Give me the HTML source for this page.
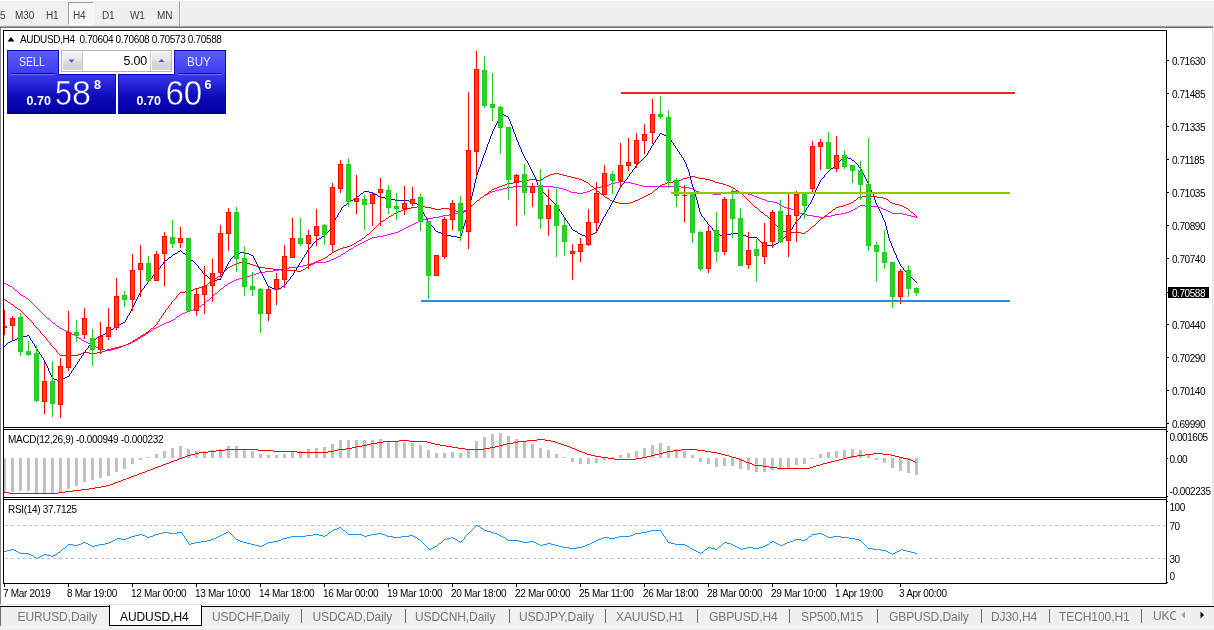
<!DOCTYPE html><html><head><meta charset="utf-8"><title>AUDUSD,H4</title><style>

html,body{margin:0;padding:0;background:#fff;}
body{width:1214px;height:630px;position:relative;overflow:hidden;font-family:"Liberation Sans",sans-serif;}
div,span{position:absolute;white-space:nowrap;}
.tb{left:0;top:0;width:1214px;height:26px;background:#f0f0f0;}
.tbt{top:9px;font-size:10px;line-height:13px;color:#404040;letter-spacing:-0.1px;will-change:transform;}
.pl{left:1172px;font-size:10px;line-height:11px;height:11px;letter-spacing:-0.45px;color:#000;}
.pl2{left:1169.5px;font-size:10px;line-height:11px;height:11px;letter-spacing:-0.45px;color:#000;}
.tk{left:1167px;width:2px;height:1px;background:#000;}
.dl{top:588px;font-size:10px;line-height:11px;letter-spacing:-0.31px;color:#000;}
.tab{top:610px;font-size:12px;line-height:15px;color:#767676;letter-spacing:-0.08px;}
.sep{top:609px;width:1px;height:14px;background:#6e6e6e;}
.ttl{left:20px;top:34px;font-size:10px;line-height:12px;letter-spacing:-0.35px;color:#000;}

</style></head><body>
<div class="tb"></div>
<div style="left:0;top:0;width:1214px;height:1px;background:#fdfdfd"></div>
<div style="left:0;top:25px;width:1214px;height:1px;background:#e2e2e2"></div>
<div style="left:0;top:26px;width:1214px;height:1px;background:#a8a8a8"></div>
<div style="left:0;top:27px;width:1213px;height:1px;background:#6a6a6a"></div>
<div style="left:68px;top:2px;width:26px;height:23px;background:repeating-conic-gradient(#ffffff 0 25%,#f0f0f0 0 50%) 0 0/2px 2px;border-left:1px solid #a0a0a0;border-top:1px solid #a0a0a0;border-right:1px solid #fff;border-bottom:1px solid #fff;box-sizing:border-box"></div>
<span class="tbt" style="left:-0.5px">5</span>
<span class="tbt" style="left:15px">M30</span>
<span class="tbt" style="left:46px">H1</span>
<span class="tbt" style="left:73px">H4</span>
<span class="tbt" style="left:102px">D1</span>
<span class="tbt" style="left:130px">W1</span>
<span class="tbt" style="left:156.5px">MN</span>
<div style="left:179px;top:1px;width:1px;height:25px;background:#a0a0a0"></div>
<div style="left:180px;top:1px;width:1px;height:25px;background:#fafafa"></div>
<div style="left:0;top:28px;width:1px;height:576px;background:#828282"></div>
<div style="left:1212px;top:28px;width:1px;height:576px;background:#e3e3e3"></div>
<div style="left:1213px;top:26px;width:1px;height:578px;background:#f0f0f0"></div>
<div style="left:0;top:604px;width:1213px;height:1px;background:#e3e3e3"></div>
<svg width="1214" height="630" viewBox="0 0 1214 630" style="position:absolute;left:0;top:0" shape-rendering="crispEdges">
<path d="M5 525.5H1166" stroke="#c0c0c0" stroke-width="1" stroke-dasharray="3 3" fill="none"/>
<path d="M5 558.5H1166" stroke="#c0c0c0" stroke-width="1" stroke-dasharray="3 3" fill="none"/>
<rect x="3" y="458" width="3" height="35" fill="#c0c0c0"/>
<rect x="11" y="458" width="3" height="34" fill="#c0c0c0"/>
<rect x="19" y="458" width="3" height="33" fill="#c0c0c0"/>
<rect x="27" y="458" width="3" height="33" fill="#c0c0c0"/>
<rect x="35" y="458" width="3" height="35" fill="#c0c0c0"/>
<rect x="43" y="458" width="3" height="35" fill="#c0c0c0"/>
<rect x="51" y="458" width="3" height="35" fill="#c0c0c0"/>
<rect x="59" y="458" width="3" height="35" fill="#c0c0c0"/>
<rect x="67" y="458" width="3" height="31" fill="#c0c0c0"/>
<rect x="75" y="458" width="3" height="28" fill="#c0c0c0"/>
<rect x="83" y="458" width="3" height="24" fill="#c0c0c0"/>
<rect x="91" y="458" width="3" height="22" fill="#c0c0c0"/>
<rect x="99" y="458" width="3" height="20" fill="#c0c0c0"/>
<rect x="107" y="458" width="3" height="18" fill="#c0c0c0"/>
<rect x="115" y="458" width="3" height="14" fill="#c0c0c0"/>
<rect x="123" y="458" width="3" height="11" fill="#c0c0c0"/>
<rect x="131" y="458" width="3" height="6" fill="#c0c0c0"/>
<rect x="139" y="458" width="3" height="2" fill="#c0c0c0"/>
<rect x="147" y="457" width="3" height="1" fill="#c0c0c0"/>
<rect x="155" y="454" width="3" height="4" fill="#c0c0c0"/>
<rect x="163" y="451" width="3" height="7" fill="#c0c0c0"/>
<rect x="171" y="448" width="3" height="10" fill="#c0c0c0"/>
<rect x="179" y="446" width="3" height="12" fill="#c0c0c0"/>
<rect x="187" y="449" width="3" height="9" fill="#c0c0c0"/>
<rect x="195" y="451" width="3" height="7" fill="#c0c0c0"/>
<rect x="203" y="451" width="3" height="7" fill="#c0c0c0"/>
<rect x="211" y="450" width="3" height="8" fill="#c0c0c0"/>
<rect x="219" y="449" width="3" height="9" fill="#c0c0c0"/>
<rect x="227" y="446" width="3" height="12" fill="#c0c0c0"/>
<rect x="235" y="446" width="3" height="12" fill="#c0c0c0"/>
<rect x="243" y="450" width="3" height="8" fill="#c0c0c0"/>
<rect x="251" y="451" width="3" height="7" fill="#c0c0c0"/>
<rect x="259" y="454" width="3" height="4" fill="#c0c0c0"/>
<rect x="267" y="455" width="3" height="3" fill="#c0c0c0"/>
<rect x="275" y="455" width="3" height="3" fill="#c0c0c0"/>
<rect x="283" y="454" width="3" height="4" fill="#c0c0c0"/>
<rect x="291" y="452" width="3" height="6" fill="#c0c0c0"/>
<rect x="299" y="451" width="3" height="7" fill="#c0c0c0"/>
<rect x="307" y="449" width="3" height="9" fill="#c0c0c0"/>
<rect x="315" y="448" width="3" height="10" fill="#c0c0c0"/>
<rect x="323" y="447" width="3" height="11" fill="#c0c0c0"/>
<rect x="331" y="444" width="3" height="14" fill="#c0c0c0"/>
<rect x="339" y="440" width="3" height="18" fill="#c0c0c0"/>
<rect x="347" y="440" width="3" height="18" fill="#c0c0c0"/>
<rect x="355" y="440" width="3" height="18" fill="#c0c0c0"/>
<rect x="363" y="440" width="3" height="18" fill="#c0c0c0"/>
<rect x="371" y="440" width="3" height="18" fill="#c0c0c0"/>
<rect x="379" y="439" width="3" height="19" fill="#c0c0c0"/>
<rect x="387" y="441" width="3" height="17" fill="#c0c0c0"/>
<rect x="395" y="441" width="3" height="17" fill="#c0c0c0"/>
<rect x="403" y="442" width="3" height="16" fill="#c0c0c0"/>
<rect x="411" y="443" width="3" height="15" fill="#c0c0c0"/>
<rect x="419" y="445" width="3" height="13" fill="#c0c0c0"/>
<rect x="427" y="450" width="3" height="8" fill="#c0c0c0"/>
<rect x="435" y="453" width="3" height="5" fill="#c0c0c0"/>
<rect x="443" y="453" width="3" height="5" fill="#c0c0c0"/>
<rect x="451" y="452" width="3" height="6" fill="#c0c0c0"/>
<rect x="459" y="453" width="3" height="5" fill="#c0c0c0"/>
<rect x="467" y="449" width="3" height="9" fill="#c0c0c0"/>
<rect x="475" y="441" width="3" height="17" fill="#c0c0c0"/>
<rect x="483" y="437" width="3" height="21" fill="#c0c0c0"/>
<rect x="491" y="434" width="3" height="24" fill="#c0c0c0"/>
<rect x="499" y="433" width="3" height="25" fill="#c0c0c0"/>
<rect x="507" y="436" width="3" height="22" fill="#c0c0c0"/>
<rect x="515" y="439" width="3" height="19" fill="#c0c0c0"/>
<rect x="523" y="442" width="3" height="16" fill="#c0c0c0"/>
<rect x="531" y="444" width="3" height="14" fill="#c0c0c0"/>
<rect x="539" y="448" width="3" height="10" fill="#c0c0c0"/>
<rect x="547" y="450" width="3" height="8" fill="#c0c0c0"/>
<rect x="555" y="454" width="3" height="4" fill="#c0c0c0"/>
<rect x="563" y="457" width="3" height="1" fill="#c0c0c0"/>
<rect x="571" y="458" width="3" height="4" fill="#c0c0c0"/>
<rect x="579" y="458" width="3" height="6" fill="#c0c0c0"/>
<rect x="587" y="458" width="3" height="6" fill="#c0c0c0"/>
<rect x="595" y="458" width="3" height="5" fill="#c0c0c0"/>
<rect x="603" y="458" width="3" height="2" fill="#c0c0c0"/>
<rect x="611" y="457" width="3" height="1" fill="#c0c0c0"/>
<rect x="619" y="455" width="3" height="3" fill="#c0c0c0"/>
<rect x="627" y="453" width="3" height="5" fill="#c0c0c0"/>
<rect x="635" y="451" width="3" height="7" fill="#c0c0c0"/>
<rect x="643" y="448" width="3" height="10" fill="#c0c0c0"/>
<rect x="651" y="445" width="3" height="13" fill="#c0c0c0"/>
<rect x="659" y="443" width="3" height="15" fill="#c0c0c0"/>
<rect x="667" y="446" width="3" height="12" fill="#c0c0c0"/>
<rect x="675" y="449" width="3" height="9" fill="#c0c0c0"/>
<rect x="683" y="451" width="3" height="7" fill="#c0c0c0"/>
<rect x="691" y="455" width="3" height="3" fill="#c0c0c0"/>
<rect x="699" y="458" width="3" height="4" fill="#c0c0c0"/>
<rect x="707" y="458" width="3" height="6" fill="#c0c0c0"/>
<rect x="715" y="458" width="3" height="9" fill="#c0c0c0"/>
<rect x="723" y="458" width="3" height="8" fill="#c0c0c0"/>
<rect x="731" y="458" width="3" height="8" fill="#c0c0c0"/>
<rect x="739" y="458" width="3" height="11" fill="#c0c0c0"/>
<rect x="747" y="458" width="3" height="12" fill="#c0c0c0"/>
<rect x="755" y="458" width="3" height="14" fill="#c0c0c0"/>
<rect x="763" y="458" width="3" height="14" fill="#c0c0c0"/>
<rect x="771" y="458" width="3" height="12" fill="#c0c0c0"/>
<rect x="779" y="458" width="3" height="12" fill="#c0c0c0"/>
<rect x="787" y="458" width="3" height="10" fill="#c0c0c0"/>
<rect x="795" y="458" width="3" height="7" fill="#c0c0c0"/>
<rect x="803" y="458" width="3" height="6" fill="#c0c0c0"/>
<rect x="811" y="458" width="3" height="1" fill="#c0c0c0"/>
<rect x="819" y="454" width="3" height="4" fill="#c0c0c0"/>
<rect x="827" y="452" width="3" height="6" fill="#c0c0c0"/>
<rect x="835" y="451" width="3" height="7" fill="#c0c0c0"/>
<rect x="843" y="450" width="3" height="8" fill="#c0c0c0"/>
<rect x="851" y="449" width="3" height="9" fill="#c0c0c0"/>
<rect x="859" y="450" width="3" height="8" fill="#c0c0c0"/>
<rect x="867" y="455" width="3" height="3" fill="#c0c0c0"/>
<rect x="875" y="458" width="3" height="2" fill="#c0c0c0"/>
<rect x="883" y="458" width="3" height="5" fill="#c0c0c0"/>
<rect x="891" y="458" width="3" height="10" fill="#c0c0c0"/>
<rect x="899" y="458" width="3" height="13" fill="#c0c0c0"/>
<rect x="907" y="458" width="3" height="15" fill="#c0c0c0"/>
<rect x="915" y="458" width="3" height="17" fill="#c0c0c0"/>
<path d="M619 181.5h6M615 182.5h4M625 182.5h6M611 183.5h4M631 183.5h4M609 184.5h2M635 184.5h4M606 185.5h3M639 185.5h4M513 186.5h40M601 186.5h5M643 186.5h38M507 187.5h6M553 187.5h6M596 187.5h5M681 187.5h8M503 188.5h4M559 188.5h4M594 188.5h2M689 188.5h4M499 189.5h4M563 189.5h3M592 189.5h2M693 189.5h2M495 190.5h4M566 190.5h3M590 190.5h2M695 190.5h1M492 191.5h3M569 191.5h2M587 191.5h3M696 191.5h3M731 191.5h6M490 192.5h2M571 192.5h6M583 192.5h4M699 192.5h6M727 192.5h4M737 192.5h6M488 193.5h2M577 193.5h6M705 193.5h8M721 193.5h6M743 193.5h5M486 194.5h2M713 194.5h8M748 194.5h4M484 195.5h2M752 195.5h2M483 196.5h1M754 196.5h3M481 197.5h2M757 197.5h2M480 198.5h1M759 198.5h3M479 199.5h1M762 199.5h3M477 200.5h2M765 200.5h2M476 201.5h1M767 201.5h6M475 202.5h1M773 202.5h4M474 203.5h1M777 203.5h2M473 204.5h1M779 204.5h2M471 205.5h2M781 205.5h1M860 205.5h5M470 206.5h1M782 206.5h2M858 206.5h2M865 206.5h13M469 207.5h1M784 207.5h3M857 207.5h1M878 207.5h3M468 208.5h1M787 208.5h4M855 208.5h2M881 208.5h2M466 209.5h2M791 209.5h3M853 209.5h2M883 209.5h3M464 210.5h2M794 210.5h2M851 210.5h2M886 210.5h2M462 211.5h2M796 211.5h2M849 211.5h2M888 211.5h2M459 212.5h3M798 212.5h2M846 212.5h3M890 212.5h2M455 213.5h4M800 213.5h3M841 213.5h5M892 213.5h11M449 214.5h6M803 214.5h4M835 214.5h6M903 214.5h4M443 215.5h6M807 215.5h6M831 215.5h4M907 215.5h4M439 216.5h4M813 216.5h6M825 216.5h6M911 216.5h4M433 217.5h6M819 217.5h6M915 217.5h2M427 218.5h6M423 219.5h4M420 220.5h3M418 221.5h2M416 222.5h2M414 223.5h2M412 224.5h2M410 225.5h2M408 226.5h2M406 227.5h2M404 228.5h2M402 229.5h2M400 230.5h2M398 231.5h2M395 232.5h3M391 233.5h4M387 234.5h4M383 235.5h4M377 236.5h6M372 237.5h5M370 238.5h2M368 239.5h2M366 240.5h2M364 241.5h2M362 242.5h2M360 243.5h2M358 244.5h2M356 245.5h2M354 246.5h2M353 247.5h1M351 248.5h2M349 249.5h2M348 250.5h1M346 251.5h2M345 252.5h1M343 253.5h2M341 254.5h2M340 255.5h1M338 256.5h2M336 257.5h2M334 258.5h2M331 259.5h3M329 260.5h2M326 261.5h3M315 262.5h11M311 263.5h4M307 264.5h4M303 265.5h4M297 266.5h6M289 267.5h8M283 268.5h6M279 269.5h4M273 270.5h6M265 271.5h8M259 272.5h6M256 273.5h3M253 274.5h3M250 275.5h3M247 276.5h3M243 277.5h4M239 278.5h4M236 279.5h3M234 280.5h2M232 281.5h2M230 282.5h2M4 283.5h2M228 283.5h2M6 284.5h2M227 284.5h1M8 285.5h2M225 285.5h2M10 286.5h2M224 286.5h1M12 287.5h1M223 287.5h1M13 288.5h1M221 288.5h2M14 289.5h1M220 289.5h1M15 290.5h2M219 290.5h1M17 291.5h1M218 291.5h1M18 292.5h1M217 292.5h1M19 293.5h1M215 293.5h2M20 294.5h1M214 294.5h1M21 295.5h2M213 295.5h1M23 296.5h2M212 296.5h1M25 297.5h1M211 297.5h1M26 298.5h2M210 298.5h1M28 299.5h1M209 299.5h1M29 300.5h1M207 300.5h2M30 301.5h1M206 301.5h1M31 302.5h1M205 302.5h1M32 303.5h1M204 303.5h1M33 304.5h1M202 304.5h2M34 305.5h1M201 305.5h1M35 306.5h1M199 306.5h2M36 307.5h1M197 307.5h2M37 308.5h1M195 308.5h2M38 309.5h1M193 309.5h2M39 310.5h1M190 310.5h3M40 311.5h1M187 311.5h3M41 312.5h1M185 312.5h2M42 313.5h1M182 313.5h3M43 314.5h1M180 314.5h2M44 315.5h1M179 315.5h1M45 316.5h1M177 316.5h2M46 317.5h1M176 317.5h1M47 318.5h2M175 318.5h1M49 319.5h1M173 319.5h2M50 320.5h1M171 320.5h2M51 321.5h1M169 321.5h2M52 322.5h1M166 322.5h3M53 323.5h2M164 323.5h2M55 324.5h1M162 324.5h2M56 325.5h1M160 325.5h2M57 326.5h2M158 326.5h2M59 327.5h1M156 327.5h2M60 328.5h2M154 328.5h2M62 329.5h2M153 329.5h1M64 330.5h2M151 330.5h2M66 331.5h2M149 331.5h2M68 332.5h2M148 332.5h1M70 333.5h2M146 333.5h2M72 334.5h2M145 334.5h1M74 335.5h2M143 335.5h2M76 336.5h1M141 336.5h2M77 337.5h2M140 337.5h1M79 338.5h2M138 338.5h2M81 339.5h1M137 339.5h1M82 340.5h2M135 340.5h2M84 341.5h2M133 341.5h2M86 342.5h2M131 342.5h2M88 343.5h2M129 343.5h2M90 344.5h2M126 344.5h3M92 345.5h2M123 345.5h3M94 346.5h2M121 346.5h2M96 347.5h2M118 347.5h3M98 348.5h2M115 348.5h3M100 349.5h5M111 349.5h4M105 350.5h6" fill="none" stroke="#ff00ff" stroke-width="1"/>
<path d="M554 173.5h5M550 174.5h4M559 174.5h4M548 175.5h2M563 175.5h4M546 176.5h2M567 176.5h4M691 176.5h4M544 177.5h2M571 177.5h4M687 177.5h4M695 177.5h4M543 178.5h1M575 178.5h4M683 178.5h4M699 178.5h6M529 179.5h8M541 179.5h2M579 179.5h3M681 179.5h2M705 179.5h5M523 180.5h6M537 180.5h4M582 180.5h2M678 180.5h3M710 180.5h3M519 181.5h4M584 181.5h2M673 181.5h5M713 181.5h2M513 182.5h6M586 182.5h2M667 182.5h6M715 182.5h4M507 183.5h6M588 183.5h1M665 183.5h2M719 183.5h4M505 184.5h2M589 184.5h1M662 184.5h3M723 184.5h3M502 185.5h3M590 185.5h1M660 185.5h2M726 185.5h3M499 186.5h3M591 186.5h2M659 186.5h1M729 186.5h2M497 187.5h2M593 187.5h1M658 187.5h1M731 187.5h2M494 188.5h3M594 188.5h1M657 188.5h1M733 188.5h2M492 189.5h2M595 189.5h1M655 189.5h2M735 189.5h1M491 190.5h1M596 190.5h1M654 190.5h1M736 190.5h2M489 191.5h2M597 191.5h2M653 191.5h1M738 191.5h1M488 192.5h1M599 192.5h1M652 192.5h1M739 192.5h1M487 193.5h1M600 193.5h1M650 193.5h2M740 193.5h2M485 194.5h2M601 194.5h2M648 194.5h2M742 194.5h1M484 195.5h1M603 195.5h1M646 195.5h2M743 195.5h1M483 196.5h1M604 196.5h1M644 196.5h2M744 196.5h1M862 196.5h15M481 197.5h2M605 197.5h2M642 197.5h2M745 197.5h1M858 197.5h4M877 197.5h6M480 198.5h1M607 198.5h2M640 198.5h2M746 198.5h1M857 198.5h1M883 198.5h3M479 199.5h1M609 199.5h1M638 199.5h2M747 199.5h1M856 199.5h1M886 199.5h2M477 200.5h2M610 200.5h2M635 200.5h3M748 200.5h1M854 200.5h2M888 200.5h1M476 201.5h1M612 201.5h3M633 201.5h2M749 201.5h1M853 201.5h1M889 201.5h1M475 202.5h1M615 202.5h4M630 202.5h3M750 202.5h1M851 202.5h2M890 202.5h2M474 203.5h1M619 203.5h11M751 203.5h1M849 203.5h2M892 203.5h3M473 204.5h1M752 204.5h1M846 204.5h3M895 204.5h4M472 205.5h1M753 205.5h1M843 205.5h3M899 205.5h3M417 206.5h8M471 206.5h1M754 206.5h1M839 206.5h4M902 206.5h2M411 207.5h6M425 207.5h6M470 207.5h1M755 207.5h2M836 207.5h3M904 207.5h2M407 208.5h4M431 208.5h4M441 208.5h8M469 208.5h1M757 208.5h1M835 208.5h1M906 208.5h2M403 209.5h4M435 209.5h6M449 209.5h5M468 209.5h1M758 209.5h1M833 209.5h2M908 209.5h1M401 210.5h2M454 210.5h2M466 210.5h2M759 210.5h1M832 210.5h1M909 210.5h1M398 211.5h3M456 211.5h2M464 211.5h2M760 211.5h1M831 211.5h1M910 211.5h1M396 212.5h2M458 212.5h2M462 212.5h2M761 212.5h2M829 212.5h2M911 212.5h2M394 213.5h2M460 213.5h2M763 213.5h1M828 213.5h1M913 213.5h1M393 214.5h1M764 214.5h1M827 214.5h1M914 214.5h1M391 215.5h2M765 215.5h2M825 215.5h2M915 215.5h1M389 216.5h2M767 216.5h1M824 216.5h1M916 216.5h1M388 217.5h1M768 217.5h1M823 217.5h1M386 218.5h2M769 218.5h1M821 218.5h2M385 219.5h1M770 219.5h1M820 219.5h1M383 220.5h2M771 220.5h1M819 220.5h1M381 221.5h2M772 221.5h1M818 221.5h1M380 222.5h1M773 222.5h1M817 222.5h1M379 223.5h1M774 223.5h1M816 223.5h1M378 224.5h1M775 224.5h1M815 224.5h1M377 225.5h1M776 225.5h1M814 225.5h1M376 226.5h1M777 226.5h1M812 226.5h2M375 227.5h1M778 227.5h1M811 227.5h1M374 228.5h1M779 228.5h1M810 228.5h1M373 229.5h1M780 229.5h2M809 229.5h1M372 230.5h1M782 230.5h1M808 230.5h1M371 231.5h1M783 231.5h4M806 231.5h2M370 232.5h1M787 232.5h14M805 232.5h1M369 233.5h1M801 233.5h4M367 234.5h2M366 235.5h1M365 236.5h1M364 237.5h1M362 238.5h2M361 239.5h1M359 240.5h2M357 241.5h2M356 242.5h1M354 243.5h2M352 244.5h2M350 245.5h2M347 246.5h3M343 247.5h4M340 248.5h3M338 249.5h2M336 250.5h2M334 251.5h2M332 252.5h2M331 253.5h1M329 254.5h2M328 255.5h1M327 256.5h1M325 257.5h2M323 258.5h2M321 259.5h2M318 260.5h3M316 261.5h2M239 262.5h6M314 262.5h2M236 263.5h3M245 263.5h5M313 263.5h1M234 264.5h2M250 264.5h3M311 264.5h2M232 265.5h2M253 265.5h3M309 265.5h2M230 266.5h2M256 266.5h3M308 266.5h1M228 267.5h2M259 267.5h6M306 267.5h2M227 268.5h1M265 268.5h8M305 268.5h1M226 269.5h1M273 269.5h8M303 269.5h2M225 270.5h1M281 270.5h16M301 270.5h2M224 271.5h1M297 271.5h4M223 272.5h1M222 273.5h1M221 274.5h1M220 275.5h1M218 276.5h2M217 277.5h1M215 278.5h2M213 279.5h2M212 280.5h1M211 281.5h1M209 282.5h2M208 283.5h1M207 284.5h1M205 285.5h2M203 286.5h2M199 287.5h4M195 288.5h4M193 289.5h2M190 290.5h3M185 291.5h5M180 292.5h5M179 293.5h1M178 294.5h1M177 295.5h1M176 296.5h1M176 297.5h1M175 298.5h1M4 299.5h1M174 299.5h1M5 300.5h2M173 300.5h1M7 301.5h1M172 301.5h1M8 302.5h2M171 302.5h1M10 303.5h1M171 303.5h1M11 304.5h2M170 304.5h1M13 305.5h1M169 305.5h1M14 306.5h1M168 306.5h1M15 307.5h2M168 307.5h1M17 308.5h1M167 308.5h1M18 309.5h2M166 309.5h1M20 310.5h1M165 310.5h1M21 311.5h1M165 311.5h1M22 312.5h1M164 312.5h1M23 313.5h1M163 313.5h1M24 314.5h1M163 314.5h1M25 315.5h1M162 315.5h1M26 316.5h1M161 316.5h1M27 317.5h1M161 317.5h1M28 318.5h1M160 318.5h1M29 319.5h1M159 319.5h1M30 320.5h1M159 320.5h1M31 321.5h1M158 321.5h1M32 322.5h1M157 322.5h1M33 323.5h1M157 323.5h1M33 324.5h1M156 324.5h1M34 325.5h1M155 325.5h1M35 326.5h1M154 326.5h1M36 327.5h1M153 327.5h1M37 328.5h1M151 328.5h2M38 329.5h1M150 329.5h1M39 330.5h1M149 330.5h1M40 331.5h1M148 331.5h1M40 332.5h1M146 332.5h2M41 333.5h1M145 333.5h1M42 334.5h1M143 334.5h2M43 335.5h1M141 335.5h2M44 336.5h1M140 336.5h1M45 337.5h1M138 337.5h2M46 338.5h1M137 338.5h1M46 339.5h1M135 339.5h2M47 340.5h1M133 340.5h2M48 341.5h1M132 341.5h1M49 342.5h1M130 342.5h2M50 343.5h1M128 343.5h2M50 344.5h1M126 344.5h2M51 345.5h1M123 345.5h3M52 346.5h1M119 346.5h4M53 347.5h1M115 347.5h4M54 348.5h1M111 348.5h4M55 349.5h1M107 349.5h4M56 350.5h1M105 350.5h2M56 351.5h1M102 351.5h3M57 352.5h1M83 352.5h6M97 352.5h5M58 353.5h1M81 353.5h2M89 353.5h8M59 354.5h1M78 354.5h3M60 355.5h18" fill="none" stroke="#ff0000" stroke-width="1"/>
<path d="M503 114.5h1M502 115.5h1M504 115.5h2M501 116.5h1M506 116.5h2M500 117.5h1M508 117.5h1M499 118.5h1M508 118.5h1M498 119.5h1M509 119.5h1M498 120.5h1M509 120.5h1M497 121.5h1M510 121.5h1M497 122.5h1M510 122.5h1M496 123.5h1M510 123.5h1M496 124.5h1M511 124.5h1M495 125.5h1M511 125.5h1M495 126.5h1M512 126.5h1M494 127.5h1M512 127.5h1M494 128.5h1M512 128.5h1M493 129.5h1M513 129.5h1M493 130.5h1M513 130.5h1M492 131.5h1M513 131.5h1M492 132.5h1M514 132.5h1M492 133.5h1M514 133.5h1M660 133.5h2M491 134.5h1M515 134.5h1M659 134.5h1M662 134.5h2M491 135.5h1M515 135.5h1M659 135.5h1M664 135.5h2M490 136.5h1M515 136.5h1M658 136.5h1M666 136.5h2M490 137.5h1M516 137.5h1M657 137.5h1M668 137.5h2M490 138.5h1M516 138.5h1M657 138.5h1M670 138.5h1M489 139.5h1M516 139.5h1M656 139.5h1M670 139.5h1M489 140.5h1M517 140.5h1M655 140.5h1M671 140.5h1M489 141.5h1M517 141.5h1M655 141.5h1M671 141.5h1M488 142.5h1M518 142.5h1M654 142.5h1M672 142.5h1M488 143.5h1M518 143.5h1M653 143.5h1M673 143.5h1M487 144.5h1M518 144.5h1M653 144.5h1M673 144.5h1M487 145.5h1M519 145.5h1M652 145.5h1M674 145.5h1M487 146.5h1M519 146.5h1M651 146.5h1M675 146.5h1M486 147.5h1M520 147.5h1M651 147.5h1M675 147.5h1M486 148.5h1M520 148.5h1M650 148.5h1M676 148.5h1M486 149.5h1M521 149.5h1M650 149.5h1M677 149.5h1M485 150.5h1M521 150.5h1M649 150.5h1M677 150.5h1M485 151.5h1M521 151.5h1M648 151.5h1M678 151.5h1M485 152.5h1M522 152.5h1M648 152.5h1M679 152.5h1M484 153.5h1M522 153.5h1M647 153.5h1M679 153.5h1M484 154.5h1M523 154.5h1M647 154.5h1M680 154.5h1M483 155.5h1M523 155.5h1M646 155.5h1M681 155.5h1M483 156.5h1M524 156.5h1M645 156.5h1M681 156.5h1M483 157.5h1M524 157.5h1M644 157.5h1M682 157.5h1M844 157.5h4M482 158.5h1M525 158.5h1M643 158.5h1M683 158.5h1M843 158.5h1M848 158.5h3M482 159.5h1M525 159.5h1M642 159.5h1M683 159.5h1M841 159.5h2M851 159.5h1M482 160.5h1M526 160.5h1M641 160.5h1M684 160.5h1M840 160.5h1M852 160.5h2M481 161.5h1M527 161.5h1M640 161.5h1M684 161.5h1M839 161.5h1M854 161.5h1M481 162.5h1M527 162.5h1M639 162.5h1M685 162.5h1M838 162.5h1M855 162.5h1M481 163.5h1M528 163.5h1M638 163.5h1M685 163.5h1M837 163.5h1M856 163.5h1M480 164.5h1M528 164.5h1M637 164.5h1M686 164.5h1M836 164.5h1M857 164.5h1M480 165.5h1M529 165.5h1M636 165.5h1M686 165.5h1M835 165.5h1M858 165.5h1M480 166.5h1M529 166.5h1M635 166.5h1M686 166.5h1M834 166.5h1M858 166.5h1M479 167.5h1M530 167.5h1M635 167.5h1M687 167.5h1M833 167.5h1M859 167.5h1M479 168.5h1M530 168.5h1M634 168.5h1M687 168.5h1M831 168.5h2M860 168.5h1M478 169.5h1M531 169.5h1M633 169.5h1M688 169.5h1M830 169.5h1M861 169.5h1M478 170.5h1M531 170.5h1M632 170.5h1M688 170.5h1M829 170.5h1M861 170.5h1M478 171.5h1M532 171.5h1M632 171.5h1M688 171.5h1M828 171.5h1M862 171.5h1M477 172.5h1M532 172.5h1M631 172.5h1M689 172.5h1M827 172.5h1M862 172.5h1M477 173.5h1M533 173.5h1M630 173.5h1M689 173.5h1M826 173.5h1M863 173.5h1M477 174.5h1M533 174.5h1M629 174.5h1M689 174.5h1M825 174.5h1M863 174.5h1M476 175.5h1M534 175.5h1M629 175.5h1M689 175.5h1M824 175.5h1M864 175.5h1M476 176.5h1M534 176.5h1M628 176.5h1M690 176.5h1M824 176.5h1M864 176.5h1M476 177.5h1M535 177.5h1M627 177.5h1M690 177.5h1M823 177.5h1M865 177.5h1M476 178.5h1M535 178.5h1M627 178.5h1M690 178.5h1M822 178.5h1M865 178.5h1M475 179.5h1M536 179.5h1M626 179.5h1M690 179.5h1M821 179.5h1M866 179.5h1M475 180.5h1M536 180.5h1M625 180.5h1M691 180.5h1M820 180.5h1M866 180.5h1M475 181.5h1M536 181.5h1M624 181.5h1M691 181.5h1M820 181.5h1M867 181.5h1M475 182.5h1M537 182.5h1M624 182.5h1M691 182.5h1M819 182.5h1M867 182.5h1M474 183.5h1M537 183.5h1M623 183.5h1M691 183.5h1M819 183.5h1M868 183.5h1M474 184.5h1M537 184.5h1M622 184.5h1M692 184.5h1M818 184.5h1M868 184.5h1M474 185.5h1M538 185.5h1M621 185.5h1M692 185.5h1M818 185.5h1M868 185.5h1M474 186.5h1M538 186.5h1M621 186.5h1M692 186.5h1M817 186.5h1M869 186.5h1M474 187.5h1M538 187.5h1M620 187.5h1M693 187.5h1M817 187.5h1M869 187.5h1M473 188.5h1M539 188.5h1M619 188.5h1M693 188.5h1M816 188.5h1M870 188.5h1M473 189.5h1M539 189.5h1M619 189.5h1M693 189.5h1M816 189.5h1M870 189.5h1M473 190.5h1M540 190.5h1M618 190.5h1M694 190.5h1M815 190.5h1M871 190.5h1M364 191.5h5M473 191.5h1M541 191.5h2M618 191.5h1M694 191.5h1M815 191.5h1M871 191.5h1M363 192.5h1M369 192.5h4M472 192.5h1M543 192.5h1M617 192.5h1M694 192.5h1M815 192.5h1M872 192.5h1M361 193.5h2M373 193.5h2M472 193.5h1M544 193.5h1M617 193.5h1M694 193.5h1M814 193.5h1M872 193.5h1M360 194.5h1M375 194.5h2M472 194.5h1M545 194.5h1M616 194.5h1M695 194.5h1M814 194.5h1M873 194.5h1M359 195.5h1M377 195.5h1M472 195.5h1M546 195.5h1M616 195.5h1M695 195.5h1M814 195.5h1M873 195.5h1M357 196.5h2M378 196.5h2M471 196.5h1M547 196.5h1M615 196.5h1M695 196.5h1M813 196.5h1M873 196.5h1M356 197.5h1M380 197.5h5M471 197.5h1M548 197.5h1M615 197.5h1M696 197.5h1M813 197.5h1M874 197.5h1M354 198.5h2M385 198.5h6M471 198.5h1M549 198.5h1M614 198.5h1M696 198.5h1M812 198.5h1M874 198.5h1M353 199.5h1M391 199.5h4M471 199.5h1M550 199.5h1M614 199.5h1M696 199.5h1M812 199.5h1M874 199.5h1M351 200.5h2M395 200.5h14M470 200.5h1M551 200.5h1M613 200.5h1M697 200.5h1M811 200.5h1M875 200.5h1M349 201.5h2M409 201.5h4M470 201.5h1M552 201.5h1M613 201.5h1M697 201.5h1M811 201.5h1M875 201.5h1M348 202.5h1M413 202.5h2M470 202.5h1M553 202.5h1M612 202.5h1M697 202.5h1M810 202.5h1M875 202.5h1M347 203.5h1M415 203.5h2M470 203.5h1M554 203.5h1M611 203.5h1M697 203.5h1M810 203.5h1M876 203.5h1M346 204.5h1M417 204.5h1M470 204.5h1M555 204.5h1M611 204.5h1M698 204.5h1M809 204.5h1M876 204.5h1M344 205.5h2M418 205.5h1M469 205.5h1M556 205.5h1M610 205.5h1M698 205.5h1M808 205.5h1M877 205.5h1M343 206.5h1M418 206.5h1M469 206.5h1M557 206.5h1M610 206.5h1M698 206.5h1M808 206.5h1M877 206.5h1M342 207.5h1M419 207.5h1M469 207.5h1M557 207.5h1M609 207.5h1M698 207.5h1M807 207.5h1M878 207.5h1M341 208.5h1M420 208.5h1M469 208.5h1M558 208.5h1M609 208.5h1M699 208.5h1M806 208.5h1M878 208.5h1M341 209.5h1M421 209.5h1M469 209.5h1M559 209.5h1M608 209.5h1M699 209.5h1M806 209.5h1M879 209.5h1M340 210.5h1M421 210.5h1M468 210.5h1M559 210.5h1M607 210.5h1M699 210.5h1M805 210.5h1M879 210.5h1M340 211.5h1M422 211.5h1M468 211.5h1M560 211.5h1M607 211.5h1M699 211.5h1M805 211.5h1M880 211.5h1M339 212.5h1M423 212.5h1M468 212.5h1M561 212.5h1M606 212.5h1M700 212.5h1M804 212.5h1M880 212.5h1M338 213.5h1M423 213.5h1M468 213.5h1M561 213.5h1M606 213.5h1M700 213.5h1M803 213.5h1M881 213.5h1M338 214.5h1M424 214.5h1M467 214.5h1M562 214.5h1M605 214.5h1M701 214.5h1M802 214.5h1M881 214.5h1M337 215.5h1M424 215.5h1M467 215.5h1M563 215.5h1M605 215.5h1M701 215.5h1M801 215.5h1M882 215.5h1M337 216.5h1M425 216.5h1M467 216.5h1M563 216.5h1M604 216.5h1M702 216.5h1M800 216.5h1M882 216.5h1M336 217.5h1M426 217.5h1M466 217.5h1M564 217.5h1M603 217.5h1M703 217.5h1M800 217.5h1M882 217.5h1M335 218.5h1M426 218.5h1M466 218.5h1M565 218.5h1M603 218.5h1M704 218.5h1M799 218.5h1M883 218.5h1M335 219.5h1M427 219.5h1M466 219.5h1M565 219.5h1M602 219.5h1M704 219.5h1M798 219.5h1M883 219.5h1M334 220.5h1M427 220.5h1M465 220.5h1M566 220.5h1M602 220.5h1M705 220.5h1M797 220.5h1M884 220.5h1M334 221.5h1M428 221.5h1M465 221.5h1M567 221.5h1M601 221.5h1M706 221.5h1M796 221.5h1M884 221.5h1M333 222.5h1M429 222.5h1M465 222.5h1M567 222.5h1M601 222.5h1M707 222.5h1M795 222.5h1M885 222.5h1M333 223.5h1M430 223.5h1M464 223.5h1M568 223.5h1M600 223.5h1M707 223.5h1M795 223.5h1M885 223.5h1M332 224.5h1M430 224.5h1M464 224.5h1M569 224.5h1M600 224.5h1M708 224.5h1M794 224.5h1M885 224.5h1M332 225.5h1M431 225.5h1M464 225.5h1M569 225.5h1M599 225.5h1M709 225.5h1M793 225.5h1M885 225.5h1M331 226.5h1M432 226.5h1M463 226.5h1M570 226.5h1M599 226.5h1M710 226.5h1M793 226.5h1M886 226.5h1M331 227.5h1M433 227.5h1M463 227.5h1M571 227.5h1M598 227.5h1M711 227.5h1M792 227.5h1M886 227.5h1M330 228.5h1M434 228.5h1M463 228.5h1M571 228.5h1M598 228.5h1M712 228.5h1M792 228.5h1M886 228.5h1M330 229.5h1M434 229.5h1M462 229.5h1M572 229.5h1M597 229.5h1M712 229.5h1M791 229.5h1M886 229.5h1M329 230.5h1M435 230.5h1M462 230.5h1M573 230.5h2M597 230.5h1M713 230.5h1M790 230.5h1M887 230.5h1M328 231.5h1M436 231.5h2M462 231.5h1M575 231.5h2M596 231.5h1M714 231.5h1M790 231.5h1M887 231.5h1M327 232.5h1M438 232.5h3M462 232.5h1M577 232.5h1M595 232.5h1M715 232.5h1M789 232.5h1M887 232.5h1M326 233.5h1M441 233.5h2M461 233.5h1M578 233.5h2M593 233.5h2M716 233.5h2M731 233.5h9M788 233.5h1M887 233.5h1M325 234.5h1M443 234.5h4M461 234.5h1M580 234.5h2M591 234.5h2M718 234.5h2M727 234.5h4M740 234.5h3M787 234.5h1M888 234.5h1M324 235.5h1M447 235.5h4M461 235.5h1M582 235.5h3M588 235.5h3M720 235.5h2M724 235.5h3M743 235.5h3M786 235.5h1M888 235.5h1M322 236.5h2M451 236.5h6M460 236.5h1M585 236.5h3M722 236.5h2M746 236.5h2M785 236.5h1M888 236.5h1M321 237.5h1M457 237.5h4M748 237.5h9M784 237.5h1M888 237.5h1M319 238.5h2M757 238.5h1M783 238.5h1M889 238.5h1M317 239.5h2M758 239.5h1M782 239.5h1M889 239.5h1M316 240.5h1M759 240.5h1M780 240.5h2M889 240.5h1M315 241.5h1M760 241.5h1M779 241.5h1M890 241.5h1M314 242.5h1M761 242.5h1M778 242.5h1M890 242.5h1M313 243.5h1M762 243.5h2M776 243.5h2M891 243.5h1M312 244.5h1M764 244.5h3M774 244.5h2M891 244.5h1M312 245.5h1M767 245.5h7M891 245.5h1M311 246.5h1M892 246.5h1M310 247.5h1M892 247.5h1M309 248.5h1M893 248.5h1M308 249.5h1M893 249.5h1M180 250.5h1M307 250.5h1M893 250.5h1M178 251.5h2M181 251.5h1M307 251.5h1M894 251.5h1M177 252.5h1M182 252.5h1M240 252.5h5M306 252.5h1M894 252.5h1M175 253.5h2M183 253.5h2M238 253.5h2M245 253.5h4M306 253.5h1M895 253.5h1M173 254.5h2M185 254.5h1M236 254.5h2M249 254.5h2M305 254.5h1M895 254.5h1M172 255.5h1M186 255.5h1M234 255.5h2M251 255.5h2M304 255.5h1M896 255.5h1M171 256.5h1M187 256.5h1M233 256.5h1M253 256.5h1M304 256.5h1M896 256.5h1M169 257.5h2M188 257.5h1M232 257.5h1M253 257.5h1M303 257.5h1M896 257.5h1M168 258.5h1M189 258.5h1M231 258.5h1M254 258.5h1M302 258.5h1M897 258.5h1M167 259.5h1M190 259.5h1M230 259.5h1M254 259.5h1M302 259.5h1M897 259.5h1M165 260.5h2M191 260.5h2M230 260.5h1M255 260.5h1M301 260.5h1M898 260.5h1M164 261.5h1M193 261.5h1M229 261.5h1M255 261.5h1M301 261.5h1M898 261.5h1M163 262.5h1M194 262.5h1M228 262.5h1M256 262.5h1M300 262.5h1M899 262.5h1M163 263.5h1M195 263.5h1M228 263.5h1M256 263.5h1M299 263.5h1M899 263.5h1M162 264.5h1M196 264.5h1M227 264.5h1M257 264.5h1M299 264.5h1M900 264.5h1M161 265.5h1M197 265.5h1M227 265.5h1M257 265.5h1M298 265.5h1M900 265.5h1M160 266.5h1M198 266.5h1M226 266.5h1M258 266.5h1M298 266.5h1M901 266.5h1M160 267.5h1M198 267.5h1M226 267.5h1M258 267.5h1M297 267.5h1M902 267.5h1M159 268.5h1M199 268.5h1M225 268.5h1M259 268.5h1M296 268.5h1M903 268.5h1M158 269.5h1M200 269.5h1M225 269.5h1M259 269.5h1M296 269.5h1M903 269.5h1M157 270.5h1M201 270.5h1M224 270.5h1M260 270.5h1M295 270.5h1M904 270.5h1M157 271.5h1M202 271.5h1M224 271.5h1M260 271.5h1M294 271.5h1M905 271.5h1M156 272.5h1M202 272.5h1M223 272.5h1M261 272.5h1M294 272.5h1M906 272.5h1M155 273.5h1M203 273.5h1M223 273.5h1M261 273.5h1M293 273.5h1M907 273.5h1M154 274.5h1M204 274.5h1M222 274.5h1M262 274.5h1M293 274.5h1M908 274.5h1M153 275.5h1M205 275.5h2M222 275.5h1M262 275.5h1M292 275.5h1M909 275.5h1M152 276.5h1M207 276.5h1M221 276.5h1M263 276.5h1M291 276.5h1M910 276.5h1M152 277.5h1M208 277.5h1M221 277.5h1M263 277.5h1M290 277.5h1M911 277.5h1M151 278.5h1M209 278.5h2M220 278.5h1M264 278.5h1M290 278.5h1M912 278.5h1M150 279.5h1M211 279.5h1M217 279.5h4M264 279.5h1M289 279.5h1M913 279.5h1M149 280.5h1M212 280.5h5M265 280.5h1M288 280.5h1M914 280.5h1M148 281.5h1M265 281.5h1M287 281.5h1M915 281.5h1M147 282.5h1M266 282.5h1M286 282.5h1M916 282.5h1M147 283.5h1M266 283.5h1M286 283.5h1M146 284.5h1M267 284.5h1M285 284.5h1M145 285.5h1M267 285.5h1M284 285.5h1M144 286.5h1M268 286.5h2M282 286.5h2M144 287.5h1M270 287.5h2M281 287.5h1M143 288.5h1M272 288.5h2M279 288.5h2M142 289.5h1M274 289.5h2M277 289.5h2M141 290.5h1M276 290.5h1M141 291.5h1M140 292.5h1M139 293.5h1M139 294.5h1M138 295.5h1M138 296.5h1M137 297.5h1M137 298.5h1M136 299.5h1M136 300.5h1M135 301.5h1M135 302.5h1M134 303.5h1M134 304.5h1M133 305.5h1M133 306.5h1M132 307.5h1M132 308.5h1M131 309.5h1M131 310.5h1M130 311.5h1M130 312.5h1M129 313.5h1M129 314.5h1M128 315.5h1M127 316.5h1M127 317.5h1M126 318.5h1M126 319.5h1M125 320.5h1M125 321.5h1M123 322.5h2M121 323.5h2M118 324.5h3M116 325.5h2M115 326.5h1M114 327.5h1M113 328.5h1M111 329.5h2M110 330.5h1M109 331.5h1M107 332.5h2M105 333.5h2M103 334.5h2M27 335.5h2M101 335.5h2M23 336.5h4M29 336.5h1M99 336.5h2M19 337.5h4M29 337.5h1M97 337.5h2M17 338.5h2M30 338.5h1M96 338.5h1M15 339.5h2M30 339.5h1M95 339.5h1M12 340.5h3M31 340.5h1M93 340.5h2M10 341.5h2M32 341.5h1M92 341.5h1M8 342.5h2M32 342.5h1M91 342.5h1M7 343.5h1M33 343.5h1M91 343.5h1M6 344.5h1M34 344.5h1M90 344.5h1M5 345.5h1M34 345.5h1M89 345.5h1M4 346.5h1M35 346.5h1M88 346.5h1M35 347.5h1M88 347.5h1M36 348.5h1M87 348.5h1M37 349.5h1M86 349.5h1M37 350.5h1M85 350.5h1M38 351.5h1M85 351.5h1M39 352.5h1M84 352.5h1M39 353.5h1M83 353.5h1M40 354.5h1M83 354.5h1M41 355.5h1M82 355.5h1M41 356.5h1M81 356.5h1M42 357.5h1M81 357.5h1M43 358.5h1M80 358.5h1M43 359.5h1M79 359.5h1M44 360.5h1M79 360.5h1M44 361.5h1M78 361.5h1M45 362.5h1M77 362.5h1M45 363.5h1M77 363.5h1M46 364.5h1M76 364.5h1M46 365.5h1M75 365.5h1M47 366.5h1M75 366.5h1M47 367.5h1M74 367.5h1M48 368.5h1M73 368.5h1M48 369.5h1M73 369.5h1M48 370.5h1M72 370.5h1M49 371.5h1M71 371.5h1M49 372.5h1M71 372.5h1M50 373.5h1M70 373.5h1M50 374.5h1M69 374.5h1M51 375.5h1M69 375.5h1M51 376.5h1M67 376.5h2M52 377.5h1M65 377.5h2M52 378.5h2M62 378.5h3M54 379.5h3M60 379.5h2M57 380.5h3" fill="none" stroke="#0000e4" stroke-width="1"/>
<rect x="4" y="310" width="1" height="25" fill="#ff0000"/>
<rect x="4" y="326" width="3" height="2" fill="#ff0000"/>
<rect x="12" y="316" width="1" height="24" fill="#ff0000"/>
<rect x="10" y="318" width="5" height="8" fill="#ff0000"/>
<rect x="11" y="319" width="3" height="6" fill="#ff4500"/>
<rect x="20" y="313" width="1" height="43" fill="#22c922"/>
<rect x="18" y="317" width="5" height="35" fill="#22c922"/>
<rect x="19" y="318" width="3" height="33" fill="#32cd32"/>
<rect x="28" y="341" width="1" height="15" fill="#22c922"/>
<rect x="26" y="351" width="5" height="4" fill="#22c922"/>
<rect x="27" y="352" width="3" height="2" fill="#32cd32"/>
<rect x="36" y="345" width="1" height="57" fill="#22c922"/>
<rect x="34" y="353" width="5" height="48" fill="#22c922"/>
<rect x="35" y="354" width="3" height="46" fill="#32cd32"/>
<rect x="44" y="362" width="1" height="52" fill="#ff0000"/>
<rect x="42" y="381" width="5" height="21" fill="#ff0000"/>
<rect x="43" y="382" width="3" height="19" fill="#ff4500"/>
<rect x="52" y="361" width="1" height="56" fill="#22c922"/>
<rect x="50" y="381" width="5" height="23" fill="#22c922"/>
<rect x="51" y="382" width="3" height="21" fill="#32cd32"/>
<rect x="60" y="358" width="1" height="60" fill="#ff0000"/>
<rect x="58" y="366" width="5" height="39" fill="#ff0000"/>
<rect x="59" y="367" width="3" height="37" fill="#ff4500"/>
<rect x="68" y="311" width="1" height="60" fill="#ff0000"/>
<rect x="66" y="332" width="5" height="36" fill="#ff0000"/>
<rect x="67" y="333" width="3" height="34" fill="#ff4500"/>
<rect x="76" y="320" width="1" height="22" fill="#22c922"/>
<rect x="74" y="332" width="5" height="4" fill="#22c922"/>
<rect x="75" y="333" width="3" height="2" fill="#32cd32"/>
<rect x="84" y="308" width="1" height="31" fill="#ff0000"/>
<rect x="82" y="318" width="5" height="17" fill="#ff0000"/>
<rect x="83" y="319" width="3" height="15" fill="#ff4500"/>
<rect x="92" y="329" width="1" height="37" fill="#22c922"/>
<rect x="90" y="338" width="5" height="12" fill="#22c922"/>
<rect x="91" y="339" width="3" height="10" fill="#32cd32"/>
<rect x="100" y="322" width="1" height="32" fill="#ff0000"/>
<rect x="98" y="336" width="5" height="14" fill="#ff0000"/>
<rect x="99" y="337" width="3" height="12" fill="#ff4500"/>
<rect x="108" y="308" width="1" height="32" fill="#ff0000"/>
<rect x="106" y="327" width="5" height="10" fill="#ff0000"/>
<rect x="107" y="328" width="3" height="8" fill="#ff4500"/>
<rect x="116" y="278" width="1" height="52" fill="#ff0000"/>
<rect x="114" y="296" width="5" height="32" fill="#ff0000"/>
<rect x="115" y="297" width="3" height="30" fill="#ff4500"/>
<rect x="124" y="291" width="1" height="16" fill="#22c922"/>
<rect x="122" y="295" width="5" height="5" fill="#22c922"/>
<rect x="123" y="296" width="3" height="3" fill="#32cd32"/>
<rect x="132" y="254" width="1" height="57" fill="#ff0000"/>
<rect x="130" y="270" width="5" height="30" fill="#ff0000"/>
<rect x="131" y="271" width="3" height="28" fill="#ff4500"/>
<rect x="140" y="245" width="1" height="52" fill="#ff0000"/>
<rect x="138" y="263" width="5" height="7" fill="#ff0000"/>
<rect x="139" y="264" width="3" height="5" fill="#ff4500"/>
<rect x="148" y="256" width="1" height="25" fill="#22c922"/>
<rect x="146" y="263" width="5" height="18" fill="#22c922"/>
<rect x="147" y="264" width="3" height="16" fill="#32cd32"/>
<rect x="156" y="251" width="1" height="30" fill="#ff0000"/>
<rect x="154" y="254" width="5" height="27" fill="#ff0000"/>
<rect x="155" y="255" width="3" height="25" fill="#ff4500"/>
<rect x="164" y="232" width="1" height="54" fill="#ff0000"/>
<rect x="162" y="236" width="5" height="18" fill="#ff0000"/>
<rect x="163" y="237" width="3" height="16" fill="#ff4500"/>
<rect x="172" y="220" width="1" height="28" fill="#22c922"/>
<rect x="170" y="237" width="5" height="7" fill="#22c922"/>
<rect x="171" y="238" width="3" height="5" fill="#32cd32"/>
<rect x="180" y="227" width="1" height="21" fill="#ff0000"/>
<rect x="178" y="238" width="5" height="5" fill="#ff0000"/>
<rect x="179" y="239" width="3" height="3" fill="#ff4500"/>
<rect x="188" y="238" width="1" height="74" fill="#22c922"/>
<rect x="186" y="238" width="5" height="73" fill="#22c922"/>
<rect x="187" y="239" width="3" height="71" fill="#32cd32"/>
<rect x="196" y="288" width="1" height="28" fill="#ff0000"/>
<rect x="194" y="294" width="5" height="17" fill="#ff0000"/>
<rect x="195" y="295" width="3" height="15" fill="#ff4500"/>
<rect x="204" y="266" width="1" height="48" fill="#ff0000"/>
<rect x="202" y="286" width="5" height="9" fill="#ff0000"/>
<rect x="203" y="287" width="3" height="7" fill="#ff4500"/>
<rect x="212" y="259" width="1" height="43" fill="#ff0000"/>
<rect x="210" y="273" width="5" height="13" fill="#ff0000"/>
<rect x="211" y="274" width="3" height="11" fill="#ff4500"/>
<rect x="220" y="225" width="1" height="52" fill="#ff0000"/>
<rect x="218" y="233" width="5" height="40" fill="#ff0000"/>
<rect x="219" y="234" width="3" height="38" fill="#ff4500"/>
<rect x="228" y="208" width="1" height="43" fill="#ff0000"/>
<rect x="226" y="212" width="5" height="22" fill="#ff0000"/>
<rect x="227" y="213" width="3" height="20" fill="#ff4500"/>
<rect x="236" y="207" width="1" height="65" fill="#22c922"/>
<rect x="234" y="212" width="5" height="47" fill="#22c922"/>
<rect x="235" y="213" width="3" height="45" fill="#32cd32"/>
<rect x="244" y="246" width="1" height="50" fill="#22c922"/>
<rect x="242" y="258" width="5" height="29" fill="#22c922"/>
<rect x="243" y="259" width="3" height="27" fill="#32cd32"/>
<rect x="252" y="272" width="1" height="24" fill="#22c922"/>
<rect x="250" y="286" width="5" height="4" fill="#22c922"/>
<rect x="251" y="287" width="3" height="2" fill="#32cd32"/>
<rect x="260" y="288" width="1" height="45" fill="#22c922"/>
<rect x="258" y="289" width="5" height="25" fill="#22c922"/>
<rect x="259" y="290" width="3" height="23" fill="#32cd32"/>
<rect x="268" y="287" width="1" height="34" fill="#ff0000"/>
<rect x="266" y="289" width="5" height="25" fill="#ff0000"/>
<rect x="267" y="290" width="3" height="23" fill="#ff4500"/>
<rect x="276" y="273" width="1" height="32" fill="#ff0000"/>
<rect x="274" y="279" width="5" height="11" fill="#ff0000"/>
<rect x="275" y="280" width="3" height="9" fill="#ff4500"/>
<rect x="284" y="245" width="1" height="43" fill="#ff0000"/>
<rect x="282" y="256" width="5" height="24" fill="#ff0000"/>
<rect x="283" y="257" width="3" height="22" fill="#ff4500"/>
<rect x="292" y="218" width="1" height="40" fill="#ff0000"/>
<rect x="290" y="238" width="5" height="20" fill="#ff0000"/>
<rect x="291" y="239" width="3" height="18" fill="#ff4500"/>
<rect x="300" y="218" width="1" height="28" fill="#22c922"/>
<rect x="298" y="238" width="5" height="6" fill="#22c922"/>
<rect x="299" y="239" width="3" height="4" fill="#32cd32"/>
<rect x="308" y="230" width="1" height="39" fill="#ff0000"/>
<rect x="306" y="235" width="5" height="9" fill="#ff0000"/>
<rect x="307" y="236" width="3" height="7" fill="#ff4500"/>
<rect x="316" y="209" width="1" height="37" fill="#ff0000"/>
<rect x="314" y="226" width="5" height="10" fill="#ff0000"/>
<rect x="315" y="227" width="3" height="8" fill="#ff4500"/>
<rect x="324" y="224" width="1" height="21" fill="#22c922"/>
<rect x="322" y="225" width="5" height="10" fill="#22c922"/>
<rect x="323" y="226" width="3" height="8" fill="#32cd32"/>
<rect x="332" y="183" width="1" height="69" fill="#ff0000"/>
<rect x="330" y="187" width="5" height="58" fill="#ff0000"/>
<rect x="331" y="188" width="3" height="56" fill="#ff4500"/>
<rect x="340" y="160" width="1" height="33" fill="#ff0000"/>
<rect x="338" y="164" width="5" height="25" fill="#ff0000"/>
<rect x="339" y="165" width="3" height="23" fill="#ff4500"/>
<rect x="348" y="158" width="1" height="49" fill="#22c922"/>
<rect x="346" y="164" width="5" height="38" fill="#22c922"/>
<rect x="347" y="165" width="3" height="36" fill="#32cd32"/>
<rect x="356" y="175" width="1" height="39" fill="#ff0000"/>
<rect x="354" y="198" width="5" height="4" fill="#ff0000"/>
<rect x="355" y="199" width="3" height="2" fill="#ff4500"/>
<rect x="364" y="195" width="1" height="35" fill="#22c922"/>
<rect x="362" y="199" width="5" height="6" fill="#22c922"/>
<rect x="363" y="200" width="3" height="4" fill="#32cd32"/>
<rect x="372" y="193" width="1" height="33" fill="#ff0000"/>
<rect x="370" y="194" width="5" height="10" fill="#ff0000"/>
<rect x="371" y="195" width="3" height="8" fill="#ff4500"/>
<rect x="380" y="178" width="1" height="48" fill="#ff0000"/>
<rect x="378" y="189" width="5" height="4" fill="#ff0000"/>
<rect x="379" y="190" width="3" height="2" fill="#ff4500"/>
<rect x="388" y="185" width="1" height="29" fill="#22c922"/>
<rect x="386" y="190" width="5" height="18" fill="#22c922"/>
<rect x="387" y="191" width="3" height="16" fill="#32cd32"/>
<rect x="396" y="193" width="1" height="27" fill="#22c922"/>
<rect x="394" y="206" width="5" height="3" fill="#22c922"/>
<rect x="395" y="207" width="3" height="1" fill="#32cd32"/>
<rect x="404" y="186" width="1" height="29" fill="#ff0000"/>
<rect x="402" y="203" width="5" height="6" fill="#ff0000"/>
<rect x="403" y="204" width="3" height="4" fill="#ff4500"/>
<rect x="412" y="187" width="1" height="19" fill="#ff0000"/>
<rect x="410" y="199" width="5" height="5" fill="#ff0000"/>
<rect x="411" y="200" width="3" height="3" fill="#ff4500"/>
<rect x="420" y="194" width="1" height="37" fill="#22c922"/>
<rect x="418" y="197" width="5" height="25" fill="#22c922"/>
<rect x="419" y="198" width="3" height="23" fill="#32cd32"/>
<rect x="428" y="221" width="1" height="78" fill="#22c922"/>
<rect x="426" y="221" width="5" height="55" fill="#22c922"/>
<rect x="427" y="222" width="3" height="53" fill="#32cd32"/>
<rect x="436" y="255" width="1" height="21" fill="#ff0000"/>
<rect x="434" y="255" width="5" height="21" fill="#ff0000"/>
<rect x="435" y="256" width="3" height="19" fill="#ff4500"/>
<rect x="444" y="217" width="1" height="42" fill="#ff0000"/>
<rect x="442" y="219" width="5" height="38" fill="#ff0000"/>
<rect x="443" y="220" width="3" height="36" fill="#ff4500"/>
<rect x="452" y="200" width="1" height="30" fill="#ff0000"/>
<rect x="450" y="203" width="5" height="17" fill="#ff0000"/>
<rect x="451" y="204" width="3" height="15" fill="#ff4500"/>
<rect x="460" y="196" width="1" height="45" fill="#22c922"/>
<rect x="458" y="203" width="5" height="28" fill="#22c922"/>
<rect x="459" y="204" width="3" height="26" fill="#32cd32"/>
<rect x="468" y="92" width="1" height="157" fill="#ff0000"/>
<rect x="466" y="150" width="5" height="82" fill="#ff0000"/>
<rect x="467" y="151" width="3" height="80" fill="#ff4500"/>
<rect x="476" y="51" width="1" height="126" fill="#ff0000"/>
<rect x="474" y="69" width="5" height="83" fill="#ff0000"/>
<rect x="475" y="70" width="3" height="81" fill="#ff4500"/>
<rect x="484" y="56" width="1" height="52" fill="#22c922"/>
<rect x="482" y="70" width="5" height="36" fill="#22c922"/>
<rect x="483" y="71" width="3" height="34" fill="#32cd32"/>
<rect x="492" y="73" width="1" height="48" fill="#22c922"/>
<rect x="490" y="104" width="5" height="4" fill="#22c922"/>
<rect x="491" y="105" width="3" height="2" fill="#32cd32"/>
<rect x="500" y="106" width="1" height="48" fill="#22c922"/>
<rect x="498" y="107" width="5" height="21" fill="#22c922"/>
<rect x="499" y="108" width="3" height="19" fill="#32cd32"/>
<rect x="508" y="127" width="1" height="73" fill="#22c922"/>
<rect x="506" y="127" width="5" height="53" fill="#22c922"/>
<rect x="507" y="128" width="3" height="51" fill="#32cd32"/>
<rect x="516" y="174" width="1" height="52" fill="#ff0000"/>
<rect x="514" y="175" width="5" height="7" fill="#ff0000"/>
<rect x="515" y="176" width="3" height="5" fill="#ff4500"/>
<rect x="524" y="164" width="1" height="51" fill="#22c922"/>
<rect x="522" y="174" width="5" height="19" fill="#22c922"/>
<rect x="523" y="175" width="3" height="17" fill="#32cd32"/>
<rect x="532" y="183" width="1" height="24" fill="#ff0000"/>
<rect x="530" y="186" width="5" height="7" fill="#ff0000"/>
<rect x="531" y="187" width="3" height="5" fill="#ff4500"/>
<rect x="540" y="169" width="1" height="60" fill="#22c922"/>
<rect x="538" y="185" width="5" height="34" fill="#22c922"/>
<rect x="539" y="186" width="3" height="32" fill="#32cd32"/>
<rect x="548" y="189" width="1" height="47" fill="#ff0000"/>
<rect x="546" y="205" width="5" height="14" fill="#ff0000"/>
<rect x="547" y="206" width="3" height="12" fill="#ff4500"/>
<rect x="556" y="189" width="1" height="68" fill="#22c922"/>
<rect x="554" y="205" width="5" height="21" fill="#22c922"/>
<rect x="555" y="206" width="3" height="19" fill="#32cd32"/>
<rect x="564" y="218" width="1" height="38" fill="#22c922"/>
<rect x="562" y="225" width="5" height="17" fill="#22c922"/>
<rect x="563" y="226" width="3" height="15" fill="#32cd32"/>
<rect x="572" y="244" width="1" height="36" fill="#ff0000"/>
<rect x="570" y="251" width="5" height="3" fill="#ff0000"/>
<rect x="571" y="252" width="3" height="1" fill="#ff4500"/>
<rect x="580" y="238" width="1" height="24" fill="#ff0000"/>
<rect x="578" y="244" width="5" height="8" fill="#ff0000"/>
<rect x="579" y="245" width="3" height="6" fill="#ff4500"/>
<rect x="588" y="209" width="1" height="37" fill="#ff0000"/>
<rect x="586" y="222" width="5" height="23" fill="#ff0000"/>
<rect x="587" y="223" width="3" height="21" fill="#ff4500"/>
<rect x="596" y="182" width="1" height="51" fill="#ff0000"/>
<rect x="594" y="193" width="5" height="30" fill="#ff0000"/>
<rect x="595" y="194" width="3" height="28" fill="#ff4500"/>
<rect x="604" y="165" width="1" height="30" fill="#ff0000"/>
<rect x="602" y="173" width="5" height="22" fill="#ff0000"/>
<rect x="603" y="174" width="3" height="20" fill="#ff4500"/>
<rect x="612" y="171" width="1" height="23" fill="#22c922"/>
<rect x="610" y="174" width="5" height="7" fill="#22c922"/>
<rect x="611" y="175" width="3" height="5" fill="#32cd32"/>
<rect x="620" y="143" width="1" height="44" fill="#ff0000"/>
<rect x="618" y="165" width="5" height="16" fill="#ff0000"/>
<rect x="619" y="166" width="3" height="14" fill="#ff4500"/>
<rect x="628" y="138" width="1" height="33" fill="#ff0000"/>
<rect x="626" y="162" width="5" height="4" fill="#ff0000"/>
<rect x="627" y="163" width="3" height="2" fill="#ff4500"/>
<rect x="636" y="133" width="1" height="35" fill="#ff0000"/>
<rect x="634" y="140" width="5" height="24" fill="#ff0000"/>
<rect x="635" y="141" width="3" height="22" fill="#ff4500"/>
<rect x="644" y="124" width="1" height="30" fill="#ff0000"/>
<rect x="642" y="134" width="5" height="7" fill="#ff0000"/>
<rect x="643" y="135" width="3" height="5" fill="#ff4500"/>
<rect x="652" y="99" width="1" height="45" fill="#ff0000"/>
<rect x="650" y="114" width="5" height="19" fill="#ff0000"/>
<rect x="651" y="115" width="3" height="17" fill="#ff4500"/>
<rect x="660" y="96" width="1" height="23" fill="#22c922"/>
<rect x="658" y="114" width="5" height="3" fill="#22c922"/>
<rect x="659" y="115" width="3" height="1" fill="#32cd32"/>
<rect x="668" y="110" width="1" height="78" fill="#22c922"/>
<rect x="666" y="117" width="5" height="64" fill="#22c922"/>
<rect x="667" y="118" width="3" height="62" fill="#32cd32"/>
<rect x="676" y="178" width="1" height="29" fill="#22c922"/>
<rect x="674" y="180" width="5" height="16" fill="#22c922"/>
<rect x="675" y="181" width="3" height="14" fill="#32cd32"/>
<rect x="684" y="185" width="1" height="37" fill="#ff0000"/>
<rect x="682" y="195" width="5" height="1" fill="#ff0000"/>
<rect x="692" y="193" width="1" height="50" fill="#22c922"/>
<rect x="690" y="193" width="5" height="40" fill="#22c922"/>
<rect x="691" y="194" width="3" height="38" fill="#32cd32"/>
<rect x="700" y="231" width="1" height="40" fill="#22c922"/>
<rect x="698" y="232" width="5" height="37" fill="#22c922"/>
<rect x="699" y="233" width="3" height="35" fill="#32cd32"/>
<rect x="708" y="226" width="1" height="47" fill="#ff0000"/>
<rect x="706" y="231" width="5" height="38" fill="#ff0000"/>
<rect x="707" y="232" width="3" height="36" fill="#ff4500"/>
<rect x="716" y="212" width="1" height="50" fill="#22c922"/>
<rect x="714" y="230" width="5" height="22" fill="#22c922"/>
<rect x="715" y="231" width="3" height="20" fill="#32cd32"/>
<rect x="724" y="197" width="1" height="58" fill="#ff0000"/>
<rect x="722" y="199" width="5" height="53" fill="#ff0000"/>
<rect x="723" y="200" width="3" height="51" fill="#ff4500"/>
<rect x="732" y="189" width="1" height="49" fill="#22c922"/>
<rect x="730" y="199" width="5" height="20" fill="#22c922"/>
<rect x="731" y="200" width="3" height="18" fill="#32cd32"/>
<rect x="740" y="208" width="1" height="58" fill="#22c922"/>
<rect x="738" y="218" width="5" height="48" fill="#22c922"/>
<rect x="739" y="219" width="3" height="46" fill="#32cd32"/>
<rect x="748" y="232" width="1" height="37" fill="#ff0000"/>
<rect x="746" y="250" width="5" height="15" fill="#ff0000"/>
<rect x="747" y="251" width="3" height="13" fill="#ff4500"/>
<rect x="756" y="239" width="1" height="43" fill="#22c922"/>
<rect x="754" y="249" width="5" height="7" fill="#22c922"/>
<rect x="755" y="250" width="3" height="5" fill="#32cd32"/>
<rect x="764" y="223" width="1" height="41" fill="#ff0000"/>
<rect x="762" y="242" width="5" height="15" fill="#ff0000"/>
<rect x="763" y="243" width="3" height="13" fill="#ff4500"/>
<rect x="772" y="210" width="1" height="38" fill="#ff0000"/>
<rect x="770" y="212" width="5" height="30" fill="#ff0000"/>
<rect x="771" y="213" width="3" height="28" fill="#ff4500"/>
<rect x="780" y="200" width="1" height="43" fill="#22c922"/>
<rect x="778" y="211" width="5" height="31" fill="#22c922"/>
<rect x="779" y="212" width="3" height="29" fill="#32cd32"/>
<rect x="788" y="194" width="1" height="63" fill="#ff0000"/>
<rect x="786" y="215" width="5" height="26" fill="#ff0000"/>
<rect x="787" y="216" width="3" height="24" fill="#ff4500"/>
<rect x="796" y="191" width="1" height="51" fill="#ff0000"/>
<rect x="794" y="194" width="5" height="22" fill="#ff0000"/>
<rect x="795" y="195" width="3" height="20" fill="#ff4500"/>
<rect x="804" y="194" width="1" height="25" fill="#22c922"/>
<rect x="802" y="194" width="5" height="12" fill="#22c922"/>
<rect x="803" y="195" width="3" height="10" fill="#32cd32"/>
<rect x="812" y="141" width="1" height="51" fill="#ff0000"/>
<rect x="810" y="146" width="5" height="43" fill="#ff0000"/>
<rect x="811" y="147" width="3" height="41" fill="#ff4500"/>
<rect x="820" y="139" width="1" height="31" fill="#ff0000"/>
<rect x="818" y="142" width="5" height="5" fill="#ff0000"/>
<rect x="819" y="143" width="3" height="3" fill="#ff4500"/>
<rect x="828" y="132" width="1" height="37" fill="#22c922"/>
<rect x="826" y="142" width="5" height="27" fill="#22c922"/>
<rect x="827" y="143" width="3" height="25" fill="#32cd32"/>
<rect x="836" y="136" width="1" height="36" fill="#ff0000"/>
<rect x="834" y="155" width="5" height="14" fill="#ff0000"/>
<rect x="835" y="156" width="3" height="12" fill="#ff4500"/>
<rect x="844" y="150" width="1" height="19" fill="#22c922"/>
<rect x="842" y="155" width="5" height="12" fill="#22c922"/>
<rect x="843" y="156" width="3" height="10" fill="#32cd32"/>
<rect x="852" y="165" width="1" height="18" fill="#22c922"/>
<rect x="850" y="165" width="5" height="6" fill="#22c922"/>
<rect x="851" y="166" width="3" height="4" fill="#32cd32"/>
<rect x="860" y="161" width="1" height="39" fill="#22c922"/>
<rect x="858" y="170" width="5" height="15" fill="#22c922"/>
<rect x="859" y="171" width="3" height="13" fill="#32cd32"/>
<rect x="868" y="138" width="1" height="113" fill="#22c922"/>
<rect x="866" y="184" width="5" height="62" fill="#22c922"/>
<rect x="867" y="185" width="3" height="60" fill="#32cd32"/>
<rect x="876" y="242" width="1" height="40" fill="#22c922"/>
<rect x="874" y="245" width="5" height="7" fill="#22c922"/>
<rect x="875" y="246" width="3" height="5" fill="#32cd32"/>
<rect x="884" y="230" width="1" height="39" fill="#22c922"/>
<rect x="882" y="252" width="5" height="11" fill="#22c922"/>
<rect x="883" y="253" width="3" height="9" fill="#32cd32"/>
<rect x="892" y="262" width="1" height="46" fill="#22c922"/>
<rect x="890" y="262" width="5" height="35" fill="#22c922"/>
<rect x="891" y="263" width="3" height="33" fill="#32cd32"/>
<rect x="900" y="269" width="1" height="35" fill="#ff0000"/>
<rect x="898" y="271" width="5" height="26" fill="#ff0000"/>
<rect x="899" y="272" width="3" height="24" fill="#ff4500"/>
<rect x="908" y="265" width="1" height="32" fill="#22c922"/>
<rect x="906" y="270" width="5" height="19" fill="#22c922"/>
<rect x="907" y="271" width="3" height="17" fill="#32cd32"/>
<rect x="916" y="287" width="1" height="9" fill="#22c922"/>
<rect x="914" y="288" width="5" height="5" fill="#22c922"/>
<rect x="915" y="289" width="3" height="3" fill="#32cd32"/>
<path d="M537 439.5h8M399 440.5h10M527 440.5h10M545 440.5h6M383 441.5h16M409 441.5h18M518 441.5h9M551 441.5h4M377 442.5h6M427 442.5h4M513 442.5h5M555 442.5h3M371 443.5h6M431 443.5h4M507 443.5h6M558 443.5h3M367 444.5h4M435 444.5h5M503 444.5h4M561 444.5h3M362 445.5h5M440 445.5h6M499 445.5h4M564 445.5h3M356 446.5h6M446 446.5h6M495 446.5h4M567 446.5h3M352 447.5h4M452 447.5h6M490 447.5h5M570 447.5h2M346 448.5h6M458 448.5h7M484 448.5h6M572 448.5h3M225 449.5h33M338 449.5h8M465 449.5h19M575 449.5h2M681 449.5h16M216 450.5h9M258 450.5h15M334 450.5h4M577 450.5h2M673 450.5h8M697 450.5h8M208 451.5h8M273 451.5h24M328 451.5h6M579 451.5h3M667 451.5h6M705 451.5h6M199 452.5h9M297 452.5h31M582 452.5h3M663 452.5h4M711 452.5h6M195 453.5h4M585 453.5h2M659 453.5h4M717 453.5h4M873 453.5h10M191 454.5h4M587 454.5h4M655 454.5h4M721 454.5h4M865 454.5h8M883 454.5h8M187 455.5h4M591 455.5h4M651 455.5h4M725 455.5h4M857 455.5h8M891 455.5h4M185 456.5h2M595 456.5h6M647 456.5h4M729 456.5h3M851 456.5h6M895 456.5h4M182 457.5h3M601 457.5h7M642 457.5h5M732 457.5h4M847 457.5h4M899 457.5h4M179 458.5h3M608 458.5h6M636 458.5h6M736 458.5h3M843 458.5h4M903 458.5h5M177 459.5h2M614 459.5h22M739 459.5h2M839 459.5h4M908 459.5h3M174 460.5h3M741 460.5h3M835 460.5h4M911 460.5h2M171 461.5h3M744 461.5h2M831 461.5h4M913 461.5h2M169 462.5h2M746 462.5h3M827 462.5h4M915 462.5h1M166 463.5h3M749 463.5h3M823 463.5h4M163 464.5h3M752 464.5h2M820 464.5h3M161 465.5h2M754 465.5h9M816 465.5h4M158 466.5h3M763 466.5h6M813 466.5h3M155 467.5h3M769 467.5h8M810 467.5h3M153 468.5h2M777 468.5h33M150 469.5h3M147 470.5h3M145 471.5h2M142 472.5h3M139 473.5h3M137 474.5h2M134 475.5h3M131 476.5h3M129 477.5h2M126 478.5h3M123 479.5h3M121 480.5h2M118 481.5h3M115 482.5h3M113 483.5h2M110 484.5h3M106 485.5h4M101 486.5h5M95 487.5h6M89 488.5h6M81 489.5h8M73 490.5h8M65 491.5h8M4 492.5h5M58 492.5h7M9 493.5h49" fill="none" stroke="#ff0000" stroke-width="1"/>
<path d="M476 525.5h2M475 526.5h1M478 526.5h2M339 527.5h2M474 527.5h1M480 527.5h1M337 528.5h2M341 528.5h1M473 528.5h1M481 528.5h2M334 529.5h3M342 529.5h1M472 529.5h1M483 529.5h1M332 530.5h2M343 530.5h2M471 530.5h1M484 530.5h3M651 530.5h10M228 531.5h1M331 531.5h1M345 531.5h1M470 531.5h1M487 531.5h4M647 531.5h4M661 531.5h1M163 532.5h6M177 532.5h5M226 532.5h2M229 532.5h1M329 532.5h2M346 532.5h1M469 532.5h1M491 532.5h3M641 532.5h6M661 532.5h1M159 533.5h4M169 533.5h8M182 533.5h1M224 533.5h2M230 533.5h1M328 533.5h1M347 533.5h1M377 533.5h5M468 533.5h1M494 533.5h3M635 533.5h6M662 533.5h1M817 533.5h5M139 534.5h3M155 534.5h4M182 534.5h1M222 534.5h2M231 534.5h1M313 534.5h6M327 534.5h1M348 534.5h14M371 534.5h6M382 534.5h3M467 534.5h1M497 534.5h2M633 534.5h2M663 534.5h1M812 534.5h5M822 534.5h2M135 535.5h4M142 535.5h3M153 535.5h2M183 535.5h1M220 535.5h2M232 535.5h1M306 535.5h7M319 535.5h4M325 535.5h2M362 535.5h2M367 535.5h4M385 535.5h2M409 535.5h4M466 535.5h1M499 535.5h2M630 535.5h3M663 535.5h1M811 535.5h1M824 535.5h2M131 536.5h4M145 536.5h2M150 536.5h3M184 536.5h1M218 536.5h2M233 536.5h1M291 536.5h15M323 536.5h2M364 536.5h3M387 536.5h6M401 536.5h8M413 536.5h2M465 536.5h1M501 536.5h2M619 536.5h11M664 536.5h1M809 536.5h2M826 536.5h2M833 536.5h8M129 537.5h2M147 537.5h3M184 537.5h1M216 537.5h2M234 537.5h1M287 537.5h4M393 537.5h8M415 537.5h2M451 537.5h2M464 537.5h1M503 537.5h2M603 537.5h6M615 537.5h4M665 537.5h1M808 537.5h1M828 537.5h5M841 537.5h8M117 538.5h4M126 538.5h3M185 538.5h1M214 538.5h2M235 538.5h1M283 538.5h4M417 538.5h1M447 538.5h4M453 538.5h2M464 538.5h1M505 538.5h1M601 538.5h2M609 538.5h6M665 538.5h1M807 538.5h1M849 538.5h6M115 539.5h2M121 539.5h5M186 539.5h1M211 539.5h3M236 539.5h2M281 539.5h2M418 539.5h2M444 539.5h3M455 539.5h2M463 539.5h1M506 539.5h2M598 539.5h3M666 539.5h1M795 539.5h6M805 539.5h2M855 539.5h4M113 540.5h2M186 540.5h1M207 540.5h4M238 540.5h2M278 540.5h3M420 540.5h1M443 540.5h1M457 540.5h1M462 540.5h1M508 540.5h11M596 540.5h2M667 540.5h1M793 540.5h2M801 540.5h4M859 540.5h2M111 541.5h2M187 541.5h1M201 541.5h6M240 541.5h3M273 541.5h5M421 541.5h1M442 541.5h1M458 541.5h2M461 541.5h1M519 541.5h4M529 541.5h5M594 541.5h2M667 541.5h1M772 541.5h2M790 541.5h3M861 541.5h1M83 542.5h3M109 542.5h2M188 542.5h1M195 542.5h6M243 542.5h4M268 542.5h5M422 542.5h1M441 542.5h1M460 542.5h1M523 542.5h6M534 542.5h2M592 542.5h2M668 542.5h3M724 542.5h3M770 542.5h2M774 542.5h2M787 542.5h3M862 542.5h1M81 543.5h2M86 543.5h2M105 543.5h4M188 543.5h1M191 543.5h4M247 543.5h4M266 543.5h2M423 543.5h1M439 543.5h2M536 543.5h2M547 543.5h4M590 543.5h2M671 543.5h4M723 543.5h1M727 543.5h4M769 543.5h1M776 543.5h2M785 543.5h2M863 543.5h1M68 544.5h5M78 544.5h3M88 544.5h2M99 544.5h6M189 544.5h2M251 544.5h4M264 544.5h2M424 544.5h1M438 544.5h1M538 544.5h2M543 544.5h4M551 544.5h4M587 544.5h3M675 544.5h10M722 544.5h1M731 544.5h2M767 544.5h2M778 544.5h2M783 544.5h2M864 544.5h1M67 545.5h1M73 545.5h5M90 545.5h2M95 545.5h4M255 545.5h4M262 545.5h2M425 545.5h1M437 545.5h1M540 545.5h3M555 545.5h4M585 545.5h2M685 545.5h2M721 545.5h1M733 545.5h2M765 545.5h2M780 545.5h3M865 545.5h1M66 546.5h1M92 546.5h3M259 546.5h3M426 546.5h1M435 546.5h2M559 546.5h4M582 546.5h3M687 546.5h2M719 546.5h2M735 546.5h2M763 546.5h2M866 546.5h1M65 547.5h1M427 547.5h1M433 547.5h2M563 547.5h6M577 547.5h5M689 547.5h1M708 547.5h3M718 547.5h1M737 547.5h2M747 547.5h6M759 547.5h4M867 547.5h1M63 548.5h2M428 548.5h1M431 548.5h2M569 548.5h8M690 548.5h2M707 548.5h1M711 548.5h4M717 548.5h1M739 548.5h2M743 548.5h4M753 548.5h6M868 548.5h5M11 549.5h3M62 549.5h1M429 549.5h2M692 549.5h2M705 549.5h2M715 549.5h2M741 549.5h2M873 549.5h8M901 549.5h2M7 550.5h4M14 550.5h2M61 550.5h1M694 550.5h2M704 550.5h1M881 550.5h5M899 550.5h2M903 550.5h4M4 551.5h3M16 551.5h2M60 551.5h1M696 551.5h2M703 551.5h1M886 551.5h2M897 551.5h2M907 551.5h4M18 552.5h2M58 552.5h2M698 552.5h2M701 552.5h2M888 552.5h2M895 552.5h2M911 552.5h4M20 553.5h9M57 553.5h1M700 553.5h1M890 553.5h2M893 553.5h2M915 553.5h2M29 554.5h2M44 554.5h3M55 554.5h2M892 554.5h1M31 555.5h2M42 555.5h2M47 555.5h4M53 555.5h2M33 556.5h1M40 556.5h2M51 556.5h2M34 557.5h2M38 557.5h2M36 558.5h2" fill="none" stroke="#1e90ff" stroke-width="1"/>
<rect x="621" y="92" width="394" height="2" fill="#f72020"/>
<rect x="671" y="192" width="339" height="2" fill="#8fc700"/>
<rect x="421" y="300" width="589" height="2" fill="#2b8be6"/>
<rect x="3" y="30" width="1164" height="1" fill="#000"/>
<rect x="3" y="427" width="1164" height="1" fill="#000"/>
<rect x="3" y="429" width="1164" height="1" fill="#000"/>
<rect x="3" y="497" width="1164" height="1" fill="#000"/>
<rect x="3" y="499" width="1164" height="1" fill="#000"/>
<rect x="3" y="583" width="1164" height="1" fill="#000"/>
<rect x="3" y="30" width="1" height="554" fill="#000"/>
<rect x="1166" y="30" width="1" height="554" fill="#000"/>
<rect x="4" y="584" width="1" height="3" fill="#000"/>
<rect x="68" y="584" width="1" height="3" fill="#000"/>
<rect x="132" y="584" width="1" height="3" fill="#000"/>
<rect x="196" y="584" width="1" height="3" fill="#000"/>
<rect x="260" y="584" width="1" height="3" fill="#000"/>
<rect x="324" y="584" width="1" height="3" fill="#000"/>
<rect x="388" y="584" width="1" height="3" fill="#000"/>
<rect x="452" y="584" width="1" height="3" fill="#000"/>
<rect x="516" y="584" width="1" height="3" fill="#000"/>
<rect x="580" y="584" width="1" height="3" fill="#000"/>
<rect x="644" y="584" width="1" height="3" fill="#000"/>
<rect x="708" y="584" width="1" height="3" fill="#000"/>
<rect x="772" y="584" width="1" height="3" fill="#000"/>
<rect x="836" y="584" width="1" height="3" fill="#000"/>
<rect x="900" y="584" width="1" height="3" fill="#000"/>
</svg>
<svg width="9" height="6" style="position:absolute;left:6.5px;top:35.5px"><path d="M0.5 5.5L4 1L7.5 5.5Z" fill="#000"/></svg>
<span class="ttl">AUDUSD,H4&nbsp; 0.70604 0.70608 0.70573 0.70588</span>
<span style="left:8px;top:433.5px;font-size:10px;line-height:12px;letter-spacing:-0.3px">MACD(12,26,9) -0.000949 -0.000232</span>
<span style="left:8px;top:503.5px;font-size:10px;line-height:12px;letter-spacing:-0.3px">RSI(14) 37.7125</span>
<div class="tk" style="top:60px"></div>
<span class="pl" style="top:56px">0.71630</span>
<div class="tk" style="top:93px"></div>
<span class="pl" style="top:89px">0.71485</span>
<div class="tk" style="top:126px"></div>
<span class="pl" style="top:122px">0.71335</span>
<div class="tk" style="top:159px"></div>
<span class="pl" style="top:155px">0.71185</span>
<div class="tk" style="top:192px"></div>
<span class="pl" style="top:188px">0.71035</span>
<div class="tk" style="top:225px"></div>
<span class="pl" style="top:221px">0.70890</span>
<div class="tk" style="top:258px"></div>
<span class="pl" style="top:254px">0.70740</span>
<div class="tk" style="top:324px"></div>
<span class="pl" style="top:320px">0.70440</span>
<div class="tk" style="top:357px"></div>
<span class="pl" style="top:353px">0.70290</span>
<div class="tk" style="top:390px"></div>
<span class="pl" style="top:386px">0.70140</span>
<div class="tk" style="top:423px"></div>
<span class="pl" style="top:419px">0.69990</span>
<div style="left:1168px;top:287px;width:41px;height:11px;background:#000"></div>
<div class="tk" style="top:292px;width:2px"></div>
<span class="pl" style="top:288px;color:#fff">0.70588</span>
<span class="pl2" style="top:431.5px">0.001605</span>
<span class="pl2" style="top:453.5px">0.00</span>
<span class="pl2" style="top:485.5px">-0.002235</span>
<span class="pl2" style="top:501.5px">100</span>
<span class="pl2" style="top:520.5px">70</span>
<span class="pl2" style="top:553.5px">30</span>
<span class="pl2" style="top:570.5px">0</span>
<div class="tk" style="top:431px;width:1px"></div>
<div class="tk" style="top:458px;width:1px"></div>
<div class="tk" style="top:496px;width:1px"></div>
<div class="tk" style="top:501px;width:1px"></div>
<div class="tk" style="top:582px;width:1px"></div>
<span class="dl" style="left:3px">7 Mar 2019</span>
<span class="dl" style="left:67px">8 Mar 19:00</span>
<span class="dl" style="left:131px">12 Mar 00:00</span>
<span class="dl" style="left:195px">13 Mar 10:00</span>
<span class="dl" style="left:259px">14 Mar 18:00</span>
<span class="dl" style="left:323px">16 Mar 00:00</span>
<span class="dl" style="left:387px">19 Mar 10:00</span>
<span class="dl" style="left:451px">20 Mar 18:00</span>
<span class="dl" style="left:515px">22 Mar 00:00</span>
<span class="dl" style="left:579px">25 Mar 11:00</span>
<span class="dl" style="left:643px">26 Mar 18:00</span>
<span class="dl" style="left:707px">28 Mar 00:00</span>
<span class="dl" style="left:771px">29 Mar 10:00</span>
<span class="dl" style="left:835px">1 Apr 19:00</span>
<span class="dl" style="left:899px">3 Apr 00:00</span>
<div style="left:7px;top:50px;width:52px;height:25px;box-sizing:border-box;border:1px solid #0a0ab4;border-bottom:none;background:linear-gradient(#5c5cff,#3a3aee)"></div>
<div style="left:174px;top:50px;width:52px;height:25px;box-sizing:border-box;border:1px solid #0a0ab4;border-bottom:none;background:linear-gradient(#5c5cff,#3a3aee)"></div>
<div style="left:7px;top:74px;width:109px;height:40px;box-sizing:border-box;border:1px solid #0a0ab4;border-top:none;border-bottom-color:#00009c;background:linear-gradient(#3a3aee,#0a0ab8 60%,#0000a4)"></div>
<div style="left:118px;top:74px;width:108px;height:40px;box-sizing:border-box;border:1px solid #0a0ab4;border-top:none;border-bottom-color:#00009c;background:linear-gradient(#3a3aee,#0a0ab8 60%,#0000a4)"></div>
<div style="left:58px;top:74px;width:58px;height:1px;background:#0a0ab4"></div>
<div style="left:118px;top:74px;width:57px;height:1px;background:#0a0ab4"></div>
<div style="left:11px;top:73px;width:44px;height:1px;background:#0c0ca0"></div>
<div style="left:178px;top:73px;width:44px;height:1px;background:#0c0ca0"></div>
<div style="left:11px;top:74px;width:44px;height:1px;background:#6c6cf2"></div>
<div style="left:178px;top:74px;width:44px;height:1px;background:#6c6cf2"></div>
<span style="left:19.2px;top:53.5px;font-size:13px;line-height:16px;color:#ececff;transform:scaleX(0.81);transform-origin:0 0">SELL</span>
<span style="left:187.4px;top:53.5px;font-size:13px;line-height:16px;color:#ececff;transform:scaleX(0.885);transform-origin:0 0">BUY</span>
<div style="left:61px;top:50px;width:111px;height:22px;box-sizing:border-box;border:1px solid #b4b4b4;background:#fff"></div>
<div style="left:63px;top:52px;width:19px;height:18px;background:linear-gradient(#f1f1f1,#e6e6e6 47%,#d9d9d9 53%,#d2d2d2);"></div>
<div style="left:82px;top:51px;width:1px;height:20px;background:#c8c8c8"></div>
<div style="left:152px;top:52px;width:19px;height:18px;background:linear-gradient(#f1f1f1,#e6e6e6 47%,#d9d9d9 53%,#d2d2d2);"></div>
<div style="left:150px;top:51px;width:1px;height:20px;background:#c8c8c8"></div>
<svg width="7" height="5" style="position:absolute;left:68px;top:59px"><path d="M0.5 0.5H6.5L3.5 3.8Z" fill="#5060c0"/></svg>
<svg width="7" height="5" style="position:absolute;left:158px;top:58px"><path d="M0.5 4H6.5L3.5 0.7Z" fill="#5060c0"/></svg>
<span style="left:123.5px;top:54px;font-size:12.5px;line-height:15px;color:#000;letter-spacing:-0.2px">5.00</span>
<span style="left:26.5px;top:94px;font-size:12.5px;line-height:15px;font-weight:bold;color:#fff">0.70</span>
<span style="left:94px;top:78.2px;font-size:12.5px;line-height:14px;font-weight:bold;color:#fff">8</span>
<span style="left:136.5px;top:94px;font-size:12.5px;line-height:15px;font-weight:bold;color:#fff">0.70</span>
<span style="left:204.5px;top:78.2px;font-size:12.5px;line-height:14px;font-weight:bold;color:#fff">6</span>
<svg width="240" height="126" viewBox="0 0 240 126" style="position:absolute;left:0;top:0"><defs><linearGradient id="pg" gradientUnits="userSpaceOnUse" x1="0" y1="74" x2="0" y2="114"><stop offset="0" stop-color="#3a3aee"/><stop offset="0.6" stop-color="#0a0ab8"/><stop offset="1" stop-color="#0000a4"/></linearGradient></defs>
<text x="55" y="105" font-family="Liberation Sans, sans-serif" font-size="35" fill="#fff" stroke="url(#pg)" stroke-width="0.5" textLength="17" lengthAdjust="spacingAndGlyphs">5</text>
<text x="72" y="105" font-family="Liberation Sans, sans-serif" font-size="35" fill="#fff" stroke="url(#pg)" stroke-width="0.5" textLength="19" lengthAdjust="spacingAndGlyphs">8</text>
<text x="165.6" y="105" font-family="Liberation Sans, sans-serif" font-size="35" fill="#fff" stroke="url(#pg)" stroke-width="0.5" textLength="18.5" lengthAdjust="spacingAndGlyphs">6</text>
<text x="183.8" y="105" font-family="Liberation Sans, sans-serif" font-size="35" fill="#fff" stroke="url(#pg)" stroke-width="0.5" textLength="18.5" lengthAdjust="spacingAndGlyphs">0</text>
</svg>
<div style="left:0;top:607px;width:1214px;height:23px;background:#f0f0f0"></div>
<div style="left:0;top:626px;width:1214px;height:2px;background:#f8f8f8"></div>
<div style="left:0;top:606px;width:1214px;height:1px;background:#000"></div>
<div style="left:0;top:607px;width:1px;height:19px;background:#6e6e6e"></div>
<div style="left:109px;top:605px;width:93px;height:21px;box-sizing:border-box;background:#fff;border:1px solid #000;border-top:none"></div>
<div style="left:110px;top:605px;width:91px;height:2px;background:#fff"></div>
<span class="tab" style="left:17.5px;color:#767676">EURUSD,Daily</span>
<span class="tab" style="left:120px;color:#000">AUDUSD,H4</span>
<span class="tab" style="left:212px;color:#767676">USDCHF,Daily</span>
<span class="tab" style="left:312.5px;color:#767676">USDCAD,Daily</span>
<span class="tab" style="left:415px;color:#767676">USDCNH,Daily</span>
<span class="tab" style="left:519px;color:#767676">USDJPY,Daily</span>
<span class="tab" style="left:616px;color:#767676">XAUUSD,H1</span>
<span class="tab" style="left:709px;color:#767676">GBPUSD,H4</span>
<span class="tab" style="left:801px;color:#767676">SP500,M15</span>
<span class="tab" style="left:889px;color:#767676">GBPUSD,Daily</span>
<span class="tab" style="left:991px;color:#767676">DJ30,H4</span>
<span class="tab" style="left:1059px;color:#767676">TECH100,H1</span>
<div style="left:1153px;top:609px;width:23px;height:15px;overflow:hidden"><span class="tab" style="left:0;top:0">UKOIL</span></div>
<div class="sep" style="left:301px"></div>
<div class="sep" style="left:405px"></div>
<div class="sep" style="left:509px"></div>
<div class="sep" style="left:605px"></div>
<div class="sep" style="left:697px"></div>
<div class="sep" style="left:789px"></div>
<div class="sep" style="left:877px"></div>
<div class="sep" style="left:981px"></div>
<div class="sep" style="left:1049px"></div>
<div class="sep" style="left:1141px"></div>
<svg width="5" height="9" style="position:absolute;left:1181px;top:611px"><path d="M4 0.5V7.5L0.5 4Z" fill="#a0a0a0"/></svg>
<svg width="5" height="9" style="position:absolute;left:1200px;top:611px"><path d="M0.5 0.5V7.5L4 4Z" fill="#000"/></svg>
</body></html>
